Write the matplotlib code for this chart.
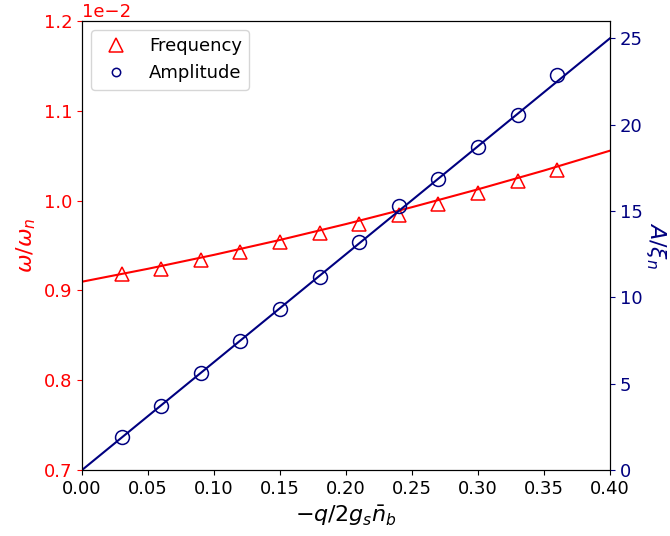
import matplotlib
matplotlib.use("Agg")
import matplotlib.pyplot as plt
from matplotlib.lines import Line2D

# ---- data ----
x_pts = [0.03, 0.06, 0.09, 0.12, 0.15, 0.18, 0.21, 0.24, 0.27, 0.30, 0.33, 0.36]
freq_pts = [0.9186, 0.9238, 0.9335, 0.9424, 0.9542, 0.9643,
            0.9743, 0.9843, 0.9959, 1.0085, 1.0215, 1.0344]  # x 1e-2
amp_pts = [1.89, 3.71, 5.64, 7.47, 9.35, 11.18,
           13.20, 15.28, 16.86, 18.69, 20.54, 22.85]

x_fit_freq = [0.0, 0.05, 0.10, 0.15, 0.20, 0.25, 0.30, 0.35, 0.40]
freq_fit = [0.9097, 0.9241, 0.9396, 0.9562, 0.9739, 0.9927, 1.0126, 1.0335, 1.0556]
x_fit_amp = [0.0, 0.40]
amp_fit = [0.0, 25.0]

scale = 1e-2
red = "#ff0000"
navy = "#000080"

fig = plt.figure(figsize=(6.7, 5.36), dpi=100)
ax1 = fig.add_axes([0.1224, 0.1231, 0.7880, 0.8377])
ax2 = ax1.twinx()

ax1.plot(x_fit_freq, [v * scale for v in freq_fit], color=red, lw=1.5, zorder=2)
ax1.plot(x_pts, [v * scale for v in freq_pts], linestyle="none", marker="^",
         markersize=10, markerfacecolor="none", markeredgecolor=red,
         markeredgewidth=1.1, zorder=3)

ax2.plot(x_fit_amp, amp_fit, color=navy, lw=1.5, zorder=2)
ax2.plot(x_pts, amp_pts, linestyle="none", marker="o", markersize=10,
         markerfacecolor="none", markeredgecolor=navy, markeredgewidth=1.1,
         zorder=3)

ax1.set_xlim(0.0, 0.4)
ax1.set_ylim(0.7 * scale, 1.2 * scale)
ax2.set_ylim(0, 26)

ax1.set_xticks([0.0, 0.05, 0.10, 0.15, 0.20, 0.25, 0.30, 0.35, 0.40])
ax1.set_yticks([0.7e-2, 0.8e-2, 0.9e-2, 1.0e-2, 1.1e-2, 1.2e-2])
ax2.set_yticks([0, 5, 10, 15, 20, 25])
ax1.ticklabel_format(axis="y", style="sci", scilimits=(0, 0))

ax1.tick_params(axis="x", labelsize=13)
ax1.tick_params(axis="y", labelsize=13, colors=red)
ax2.tick_params(axis="y", labelsize=13, colors=navy)
ax1.yaxis.get_offset_text().set_fontsize(13)
ax1.yaxis.get_offset_text().set_color(red)

ax1.set_xlabel(r"$-q/2g_s\bar{n}_b$", fontsize=16)
ax1.set_ylabel(r"$\omega/\omega_n$", fontsize=16, color=red, labelpad=4)
ax2.set_ylabel(r"$A/\xi_n$", fontsize=16, color=navy, rotation=270, labelpad=18)

handles = [
    Line2D([], [], linestyle="none", marker="^", markersize=10,
           markerfacecolor="none", markeredgecolor=red, markeredgewidth=1.1),
    Line2D([], [], linestyle="none", marker="o", markersize=6,
           markerfacecolor="none", markeredgecolor=navy, markeredgewidth=1.1),
]
ax2.legend(handles, ["Frequency", "Amplitude"], loc="upper left",
           fontsize=13, borderaxespad=0.5)

fig.savefig("out.png", dpi=100)
